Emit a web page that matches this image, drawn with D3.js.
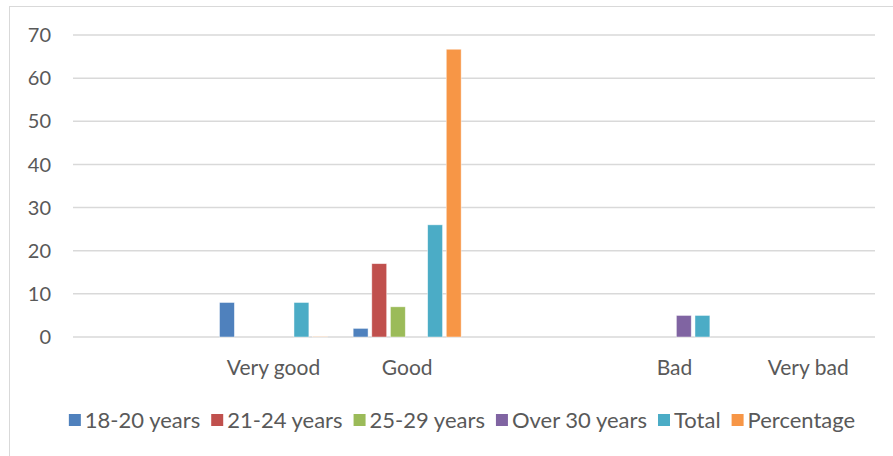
<!DOCTYPE html>
<html>
<head>
<meta charset="utf-8">
<script src="https://cdn.jsdelivr.net/npm/d3@7"></script>
<style>
  body { margin: 0; background: #fff; }
  text { font-family: Lato, "Open Sans", sans-serif; fill: #595959; }
</style>
</head>
<body>
<div id="chart"></div>
<script>
var categories = ["", "Very good", "Good", " ", "Bad", "Very bad"];
var seriesNames = ["18-20 years", "21-24 years", "25-29 years", "Over 30 years", "Total", "Percentage"];
var seriesColors = ["#4F81BD", "#C0504D", "#9BBB59", "#8064A2", "#4BACC6", "#F79646"];
var age1820 = [0, 8, 2, 0, 0, 0];
var age2124 = [0, 0, 17, 0, 0, 0];
var age2529 = [0, 0, 7, 0, 0, 0];
var over30 = [0, 0, 0, 0, 5, 0];
var total = [0, 8, 26, 0, 5, 0];
var percentage = [0, 0.1, 66.7, 0, 0, 0];
var yTicks = [0, 10, 20, 30, 40, 50, 60, 70];

var w = 893, h = 456;
var seriesValues = [age1820, age2124, age2529, over30, total, percentage];

var svg = d3.select("#chart")
    .append("svg")
    .attr("width", w)
    .attr("height", h);

// chart frame (only top and left edges are visible in the crop)
svg.append("rect")
    .attr("x", 9.5).attr("y", 6.5)
    .attr("width", 900).attr("height", 470)
    .attr("fill", "none")
    .attr("stroke", "#D9D9D9")
    .attr("stroke-width", 1);

var x = d3.scaleBand()
    .domain(d3.range(categories.length))
    .range([73, 875]);

var xs = d3.scaleBand()
    .domain(d3.range(seriesNames.length))
    .range([0, 108])
    .paddingInner(0.2);

var y = d3.scaleLinear()
    .domain([0, 70])
    .range([337, 35]);

// gridlines
svg.append("g")
    .selectAll("line")
    .data(yTicks)
    .enter()
    .append("line")
    .attr("x1", 73).attr("x2", 875)
    .attr("y1", function (d) { return y(d); })
    .attr("y2", function (d) { return y(d); })
    .attr("stroke", "#D9D9D9")
    .attr("stroke-width", 1.5);

// y tick labels
svg.append("g")
    .selectAll("text")
    .data(yTicks)
    .enter()
    .append("text")
    .attr("x", 51)
    .attr("y", function (d) { return y(d); })
    .attr("dy", "0.36em")
    .attr("text-anchor", "end")
    .attr("font-size", "20px")
    .text(function (d) { return d; });

// bars
var groupOffset = (x.bandwidth() - 108) / 2;
seriesValues.forEach(function (vals, s) {
    var pts = vals.map(function (v, i) { return { cat: i, value: v }; })
        .filter(function (d) { return d.value > 0; });
    svg.append("g")
        .selectAll("rect")
        .data(pts)
        .enter()
        .append("rect")
        .attr("x", function (d) { return x(d.cat) + groupOffset + xs(s); })
        .attr("y", function (d) { return y(d.value); })
        .attr("width", xs.bandwidth())
        .attr("height", function (d) { return y(0) - y(d.value); })
        .attr("fill", seriesColors[s])
        .attr("stroke", "#fff")
        .attr("stroke-opacity", 0.6)
        .attr("stroke-width", 0.75);
});

// category labels
svg.append("g")
    .selectAll("text")
    .data(categories)
    .enter()
    .append("text")
    .attr("x", function (d, i) { return x(i) + x.bandwidth() / 2; })
    .attr("y", 375)
    .attr("text-anchor", "middle")
    .attr("font-size", "21px")
    .text(function (d) { return d; });

// legend
var legend = svg.append("g");
var items = legend.selectAll("g")
    .data(seriesNames)
    .enter()
    .append("g");

items.append("rect")
    .attr("width", 12).attr("height", 12)
    .attr("y", -14)
    .attr("fill", function (d, i) { return seriesColors[i]; });

items.append("text")
    .attr("x", 16)
    .attr("font-size", "22px")
    .text(function (d) { return d; });

var pos = 0;
items.each(function () {
    var tw = d3.select(this).select("text").node().getComputedTextLength();
    d3.select(this).attr("transform", "translate(" + pos + ",0)");
    pos += 16 + tw + 11;
});
pos -= 11;
legend.attr("transform", "translate(" + (462 - pos / 2) + ",428)");
</script>
</body>
</html>
